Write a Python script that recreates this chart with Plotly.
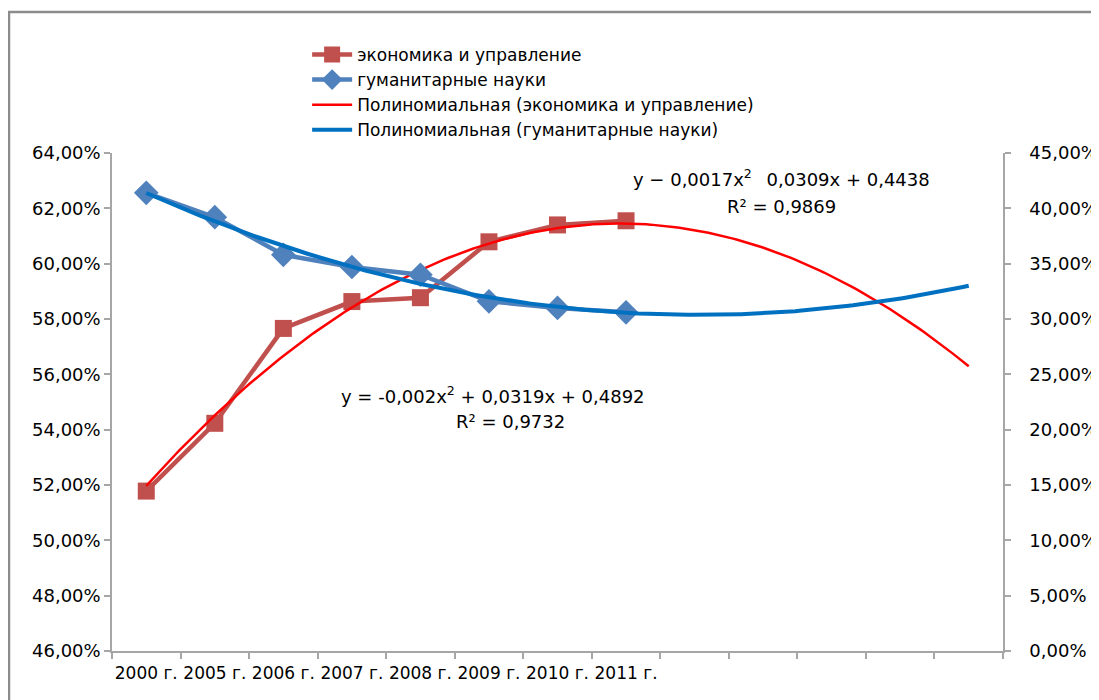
import numpy as np
import plotly.graph_objects as go

# ---- data ----
categories = list(range(1, 14))          # 13 category slots on the x axis
year_labels = ["2000 г.", "2005 г.", "2006 г.", "2007 г.", "2008 г.",
               "2009 г.", "2010 г.", "2011 г."]
econ_values = [0.5178, 0.5423, 0.5766, 0.5863, 0.5877, 0.6079, 0.6140, 0.6155]   # left axis
hum_values = [0.414, 0.392, 0.358, 0.347, 0.340, 0.316, 0.310, 0.306]            # right axis

econ_name = "экономика и управление"
hum_name = "гуманитарные науки"
econ_trend_name = "Полиномиальная (экономика и управление)"
hum_trend_name = "Полиномиальная (гуманитарные науки)"

eq_hum = ["y − 0,0017x<sup>2</sup>\u2002 0,0309x + 0,4438", "R² = 0,9869"]
eq_econ = ["y = -0,002x<sup>2</sup> + 0,0319x + 0,4892", "R² = 0,9732"]

# ---- polynomial trend lines (order 2, forecast to last slot) ----
x_data = np.array(categories[:len(econ_values)], dtype=float)
x_fit = np.linspace(categories[0], categories[-1], 200)
econ_fit = np.polyval(np.polyfit(x_data, econ_values, 2), x_fit)
hum_fit = np.polyval(np.polyfit(x_data, hum_values, 2), x_fit)

FONT = "DejaVu Sans"
fig = go.Figure()

fig.add_trace(go.Scatter(
    x=x_data, y=econ_values, name=econ_name, mode="lines+markers",
    line=dict(color="#C0504D", width=4.5),
    marker=dict(symbol="square", size=17, color="#C0504D"),
    yaxis="y"))
fig.add_trace(go.Scatter(
    x=x_data, y=hum_values, name=hum_name, mode="lines+markers",
    line=dict(color="#4F81BD", width=4.5),
    marker=dict(symbol="diamond", size=19, color="#4F81BD"),
    yaxis="y2"))
fig.add_trace(go.Scatter(
    x=x_fit, y=econ_fit, name=econ_trend_name, mode="lines",
    line=dict(color="#FF0000", width=2.5), yaxis="y"))
fig.add_trace(go.Scatter(
    x=x_fit, y=hum_fit, name=hum_trend_name, mode="lines",
    line=dict(color="#0070C0", width=4), yaxis="y2"))

# page is offset by the 8px body margin; plot area in page px: x 112..1003, y 153..651
OFF = 8
axis_col = "#A6A6A6"
fig.update_layout(
    width=1099, height=700,
    margin=dict(l=112 - OFF, r=1099 - 1003 + OFF, t=153 - OFF, b=700 - 651 + OFF,
                autoexpand=False),
    paper_bgcolor="white", plot_bgcolor="white",
    separators=", ",
    font=dict(family=FONT, size=18, color="#000000"),
    showlegend=True,
    legend=dict(x=0.219, y=1.233, xanchor="left", yanchor="top",
                font=dict(family=FONT, size=17), bgcolor="rgba(0,0,0,0)",
                tracegroupgap=0, itemwidth=40),
    xaxis=dict(range=[0.5, 13.5], tickmode="array", automargin=False,
               tickvals=categories[:len(year_labels)], ticktext=year_labels,
               ticks="", tickangle=0, showgrid=False, zeroline=False,
               showline=True, linecolor=axis_col, linewidth=1.5,
               ticklabelstandoff=6,
               tickfont=dict(family=FONT, size=17),
               minor=dict(tickmode="array",
                          tickvals=[c - 0.5 for c in categories] + [categories[-1] + 0.5],
                          ticks="outside", ticklen=6, tickcolor=axis_col, tickwidth=1.5,
                          showgrid=False)),
    yaxis=dict(range=[0.46, 0.64], dtick=0.02, tick0=0.46, tickformat=".2%",
               automargin=False,
               showgrid=False, zeroline=False, showline=True,
               linecolor=axis_col, linewidth=1.5, ticks="outside", ticklen=6,
               tickcolor=axis_col, tickwidth=1.5, tickfont=dict(family=FONT, size=18)),
    yaxis2=dict(range=[0, 0.45], dtick=0.05, tick0=0, tickformat=".2%",
                overlaying="y", side="right", automargin=False,
                showgrid=False, zeroline=False, showline=True,
                linecolor=axis_col, linewidth=1.5, ticks="outside", ticklen=6,
                tickcolor=axis_col, tickwidth=1.5, ticklabelstandoff=15,
                tickfont=dict(family=FONT, size=18)),
)

# helpers: page px -> paper coords of the plot area
def px_to_paper_x(px):
    return (px - 112) / 891.0

def px_to_paper_y(py):
    return (651 - py) / 498.0

for text, xc, yc in [(eq_hum[0], 781, 178), (eq_hum[1], 781, 206),
                     (eq_econ[0], 493, 395), (eq_econ[1], 510, 421)]:
    fig.add_annotation(x=px_to_paper_x(xc), y=px_to_paper_y(yc), xref="paper", yref="paper",
                       text=text, showarrow=False, xanchor="center", yanchor="middle",
                       font=dict(family=FONT, size=18, color="#000000"))

# outer chart border
fig.add_shape(type="rect", xref="paper", yref="paper",
              x0=px_to_paper_x(9), x1=px_to_paper_x(1110),
              y0=px_to_paper_y(712), y1=px_to_paper_y(12),
              line=dict(color="#8C8C8C", width=2.5), fillcolor="rgba(0,0,0,0)", layer="below")

fig.write_html("out.html")
